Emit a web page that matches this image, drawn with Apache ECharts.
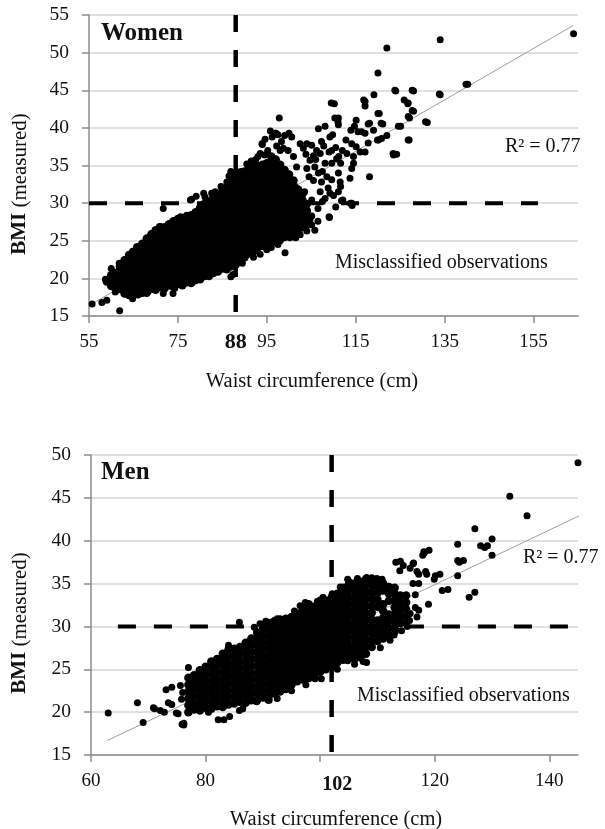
<!DOCTYPE html>
<html>
<head>
<meta charset="utf-8">
<script src="https://cdn.jsdelivr.net/npm/echarts@6.0.0/dist/echarts.min.js"></script>
<style>
html, body { margin: 0; padding: 0; background: #fff; }
#chart { width: 605px; height: 829px; }
</style>
</head>
<body>
<div id="chart"></div>
<script>
// ---------- Women: waist circumference (cm) vs measured BMI ----------
const womenTickValues = [55, 75, 95, 115, 135, 155];
const womenLabelValues = [55, 75, 88, 95, 115, 135, 155];
const womenWaistCutoff = 88;
const bmiCutoff = 30;
const womenCutoffSpan = [55, 156];          // horizontal BMI 30 line, waist extent
const womenTrend = [[55.9, 16.7], [163.9, 53.6]];

// dense central band, one column per waist value
const womenCoreWaist = [59, 60, 61, 62, 63, 64, 65, 66, 67, 68, 69, 70, 71, 72, 73, 74, 75, 76, 77, 78, 79, 80, 81,
  82, 83, 84, 85, 86, 87, 88, 89, 90, 91, 92, 93, 94, 95, 96, 97, 98, 99, 100, 101, 102, 103, 104];
const womenCoreBmi = [
  [19.6],
  [19.0, 20.4],
  [18.9, 19.8, 20.7],
  [18.6, 19.5, 20.4, 21.3],
  [18.0, 18.9, 19.8, 20.7, 21.6, 22.4],
  [17.8, 18.7, 19.6, 20.5, 21.4, 22.3, 23.1],
  [18.3, 19.2, 20.1, 21.0, 21.9, 22.8, 23.5],
  [17.9, 18.8, 19.7, 20.6, 21.5, 22.4, 23.3, 24.1],
  [18.4, 19.3, 20.2, 21.1, 22.0, 22.9, 23.8, 24.6],
  [18.1, 19.0, 19.9, 20.8, 21.7, 22.6, 23.5, 24.4, 25.3],
  [18.6, 19.5, 20.4, 21.3, 22.2, 23.1, 24.0, 24.9, 25.8],
  [18.5, 19.4, 20.3, 21.2, 22.1, 23.0, 23.9, 24.8, 25.7, 26.4],
  [18.9, 19.8, 20.7, 21.6, 22.5, 23.4, 24.3, 25.2, 26.1, 26.8],
  [18.7, 19.6, 20.5, 21.4, 22.3, 23.2, 24.1, 25.0, 25.9, 26.8],
  [19.1, 20.0, 20.9, 21.8, 22.7, 23.6, 24.5, 25.4, 26.3, 27.2],
  [18.9, 19.8, 20.7, 21.6, 22.5, 23.4, 24.3, 25.2, 26.1, 27.0, 27.6],
  [19.3, 20.2, 21.1, 22.0, 22.9, 23.8, 24.7, 25.6, 26.5, 27.4, 27.9],
  [19.1, 20.0, 20.9, 21.8, 22.7, 23.6, 24.5, 25.4, 26.3, 27.2, 28.0],
  [19.5, 20.4, 21.3, 22.2, 23.1, 24.0, 24.9, 25.8, 26.7, 27.6, 28.3],
  [19.4, 20.3, 21.2, 22.1, 23.0, 23.9, 24.8, 25.7, 26.6, 27.5, 28.4],
  [19.8, 20.7, 21.6, 22.5, 23.4, 24.3, 25.2, 26.1, 27.0, 27.9, 28.8],
  [19.9, 20.8, 21.7, 22.6, 23.5, 24.4, 25.3, 26.2, 27.1, 28.0, 28.9, 29.4],
  [20.3, 21.2, 22.1, 23.0, 23.9, 24.8, 25.7, 26.6, 27.5, 28.4, 29.3, 29.9],
  [20.3, 21.2, 22.1, 23.0, 23.9, 24.8, 25.7, 26.6, 27.5, 28.4, 29.3, 30.2],
  [20.7, 21.6, 22.5, 23.4, 24.3, 25.2, 26.1, 27.0, 27.9, 28.8, 29.7, 30.6, 31.0],
  [20.9, 21.8, 22.7, 23.6, 24.5, 25.4, 26.3, 27.2, 28.1, 29.0, 29.9, 30.8],
  [21.3, 22.2, 23.1, 24.0, 24.9, 25.8, 26.7, 27.6, 28.5, 29.4, 30.3, 31.2, 31.6],
  [21.2, 22.1, 23.0, 23.9, 24.8, 25.7, 26.6, 27.5, 28.4, 29.3, 30.2, 31.1, 32.0],
  [21.6, 22.5, 23.4, 24.3, 25.2, 26.1, 27.0, 27.9, 28.8, 29.7, 30.6, 31.5, 32.4, 32.8],
  [21.8, 22.7, 23.6, 24.5, 25.4, 26.3, 27.2, 28.1, 29.0, 29.9, 30.8, 31.7, 32.6, 33.2],
  [22.3, 23.2, 24.1, 25.0, 25.9, 26.8, 27.7, 28.6, 29.5, 30.4, 31.3, 32.2, 33.1, 33.6],
  [22.8, 23.7, 24.6, 25.5, 26.4, 27.3, 28.2, 29.1, 30.0, 30.9, 31.8, 32.7, 33.6, 34.2],
  [23.3, 24.2, 25.1, 26.0, 26.9, 27.8, 28.7, 29.6, 30.5, 31.4, 32.3, 33.2, 34.1, 34.6],
  [23.6, 24.5, 25.4, 26.3, 27.2, 28.1, 29.0, 29.9, 30.8, 31.7, 32.6, 33.5, 34.4, 35.0],
  [24.1, 25.0, 25.9, 26.8, 27.7, 28.6, 29.5, 30.4, 31.3, 32.2, 33.1, 34.0, 34.9],
  [24.3, 25.2, 26.1, 27.0, 27.9, 28.8, 29.7, 30.6, 31.5, 32.4, 33.3, 34.2, 35.1],
  [24.6, 25.5, 26.4, 27.3, 28.2, 29.1, 30.0, 30.9, 31.8, 32.7, 33.6, 34.5, 35.3],
  [24.7, 25.6, 26.5, 27.4, 28.3, 29.2, 30.1, 31.0, 31.9, 32.8, 33.7, 34.6, 35.5, 36.2],
  [25.1, 26.0, 26.9, 27.8, 28.7, 29.6, 30.5, 31.4, 32.3, 33.2, 34.1, 35.0, 35.8],
  [25.2, 26.1, 27.0, 27.9, 28.8, 29.7, 30.6, 31.5, 32.4, 33.3, 34.2, 35.1],
  [25.5, 26.4, 27.3, 28.2, 29.1, 30.0, 30.9, 31.8, 32.7, 33.6, 34.4],
  [25.7, 26.6, 27.5, 28.4, 29.3, 30.2, 31.1, 32.0, 32.9, 33.8],
  [26.1, 27.0, 27.9, 28.8, 29.7, 30.6, 31.5, 32.4, 33.0],
  [26.4, 27.3, 28.2, 29.1, 30.0, 30.9, 31.8],
  [26.8, 27.7, 28.6, 29.5, 30.4, 31.2],
  [27.2, 28.1, 29.0, 29.9]
];

// individual observations outside the central band
const womenScatter = [
  [55.7, 16.6], [57.9, 16.8], [59.0, 17.1], [61.9, 15.7], [58.7, 19.9], [60.0, 20.0], [60.0, 21.3], [59.9, 19.3],
  [60.9, 18.9], [60.9, 18.2], [61.8, 22.0], [61.8, 21.6], [63.9, 22.8], [64.8, 23.6], [65.7, 24.2], [64.4, 18.0],
  [64.8, 17.3], [67.0, 18.0], [67.4, 18.9], [68.7, 18.5], [69.1, 26.0], [69.6, 25.3], [70.9, 26.9], [71.7, 26.4],
  [71.7, 29.3], [71.3, 18.9], [71.7, 18.0], [73.9, 18.9], [73.9, 18.0], [75.6, 28.2], [76.5, 27.8], [77.8, 30.4],
  [79.1, 30.9], [80.8, 31.3], [82.6, 31.3], [86.9, 20.2], [89.5, 22.0], [89.1, 22.9], [90.0, 22.7], [86.9, 34.2],
  [88.2, 34.0], [89.1, 34.2], [84.7, 32.2], [83.4, 31.5], [86.0, 32.8], [91.7, 32.8], [92.1, 32.6], [93.0, 36.2],
  [93.9, 37.9], [96.9, 39.3], [97.8, 41.3], [99.1, 23.4], [100.2, 25.4], [87.4, 20.5], [74.3, 18.7], [78.1, 30.5],
  [81.1, 30.8], [83.0, 31.3], [85.2, 31.7],
  [86.5, 33.6], [87.8, 33.9], [90.5, 35.2], [91.5, 35.6], [92.5, 35.8], [93.5, 36.6], [94.5, 36.4], [95.2, 37.0],
  [94.6, 38.5], [96.2, 38.8], [97.2, 37.6], [95.8, 39.6], [97.5, 39.1], [98.3, 38.2], [99.0, 39.0], [98.0, 37.0],
  [98.7, 37.3], [99.8, 37.0], [94.0, 37.8], [100.0, 39.3], [100.6, 38.8], [97.0, 39.3], [102.5, 37.9], [104.0, 37.9],
  [105.1, 37.7], [103.2, 37.3], [106.2, 37.0], [107.0, 36.6], [109.6, 37.0], [107.3, 38.2], [108.1, 40.2], [106.6, 39.9],
  [109.8, 39.1], [109.2, 38.8], [110.2, 43.2], [111.1, 41.3], [111.1, 40.4], [113.9, 39.7], [116.3, 39.5], [117.1, 39.3],
  [115.1, 41.0], [117.8, 40.5], [117.1, 43.5], [117.1, 42.9], [119.1, 44.4], [120.0, 47.3], [122.0, 50.6], [134.0, 51.7],
  [164.0, 52.5], [140.2, 45.8], [124.0, 44.9], [128.0, 44.9], [134.0, 44.4], [125.9, 43.7], [126.7, 43.2], [128.0, 42.2],
  [120.0, 41.9], [127.1, 41.3], [131.1, 40.7], [121.1, 40.5], [125.1, 40.2], [122.0, 39.0], [127.0, 38.4], [120.1, 38.4],
  [120.8, 38.6], [112.8, 38.4], [114.1, 37.9], [117.8, 38.0], [115.1, 37.5], [116.0, 36.8], [117.1, 36.8], [123.5, 36.4],
  [124.2, 36.5], [113.0, 36.6], [114.5, 36.2], [114.5, 35.3], [110.7, 35.9], [109.6, 35.3], [108.1, 35.3], [111.1, 34.0],
  [109.6, 33.1], [114.1, 34.6], [113.7, 33.3], [118.1, 33.5], [104.7, 35.7], [105.8, 34.8], [106.6, 34.0], [101.0, 36.2],
  [101.7, 34.8], [104.0, 34.6], [107.3, 32.8], [111.5, 32.8], [111.1, 31.5], [109.2, 31.3], [107.0, 31.5], [108.1, 30.6],
  [111.8, 30.3], [114.1, 30.0], [105.1, 30.4], [104.0, 29.1], [105.1, 28.3], [102.8, 30.9], [102.5, 28.6], [103.2, 28.2],
  [109.1, 28.1], [100.9, 30.2], [98.7, 28.4], [99.4, 27.8], [101.7, 27.4], [105.1, 27.1], [99.5, 26.0], [97.3, 25.3],
  [96.5, 25.8], [98.2, 28.0], [100.8, 28.6], [102.5, 29.5], [103.4, 30.0], [104.7, 27.8], [109.0, 28.2], [111.6, 32.2],
  [112.1, 30.4], [113.8, 30.0], [114.2, 29.7], [109.5, 43.3], [110.3, 41.3], [111.0, 40.8], [109.0, 36.8], [111.2, 36.2],
  [111.6, 35.3], [116.8, 43.7], [118.1, 40.6], [119.0, 39.7], [115.5, 39.5], [114.7, 40.2], [120.3, 41.9], [120.7, 40.6],
  [123.8, 45.0], [127.7, 45.0], [126.8, 43.3], [127.7, 42.3], [126.8, 41.5], [124.6, 40.2], [119.9, 38.4], [123.4, 36.6],
  [126.8, 38.4], [130.7, 40.8], [133.8, 44.5], [139.8, 45.8],
  [100.5, 33.0], [101.5, 32.0], [102.0, 31.0], [103.5, 31.5], [104.5, 33.5], [105.5, 33.0], [106.0, 35.8], [107.5, 34.2],
  [108.5, 33.5], [108.8, 32.0], [110.0, 31.0], [110.5, 29.5], [106.5, 29.3], [107.5, 30.2], [103.8, 36.5], [105.5, 36.3],
  [107.8, 37.6], [110.5, 37.4], [112.0, 37.0], [92.0, 22.8], [93.5, 23.2], [95.0, 23.8], [96.0, 24.1], [97.5, 24.5],
  [98.0, 25.0], [101.5, 25.4], [102.5, 25.8], [104.0, 26.3], [105.8, 26.4], [106.5, 27.6]
];

// ---------- Men ----------
const menTickValues = [60, 80, 100, 120, 140];
const menLabelValues = [60, 80, 102, 120, 140];
const menWaistCutoff = 102;
const menCutoffSpan = [64.7, 143.5];
const menTrend = [[62.9, 16.7], [145.2, 42.9]];

const menCoreWaist = [77, 78, 79, 80, 81, 82, 83, 84, 85, 86, 87, 88, 89, 90, 91, 92, 93, 94, 95, 96, 97, 98, 99,
  100, 101, 102, 103, 104, 105, 106, 107, 108, 109, 110, 111, 112, 113, 114, 115];
const menCoreBmi = [
  [20.0, 20.8, 21.6, 22.4, 23.2, 24.0],
  [20.3, 21.1, 21.9, 22.7, 23.5, 24.3],
  [20.2, 21.0, 21.8, 22.6, 23.4, 24.2, 24.9],
  [20.5, 21.3, 22.1, 22.9, 23.7, 24.5, 25.3],
  [20.4, 21.2, 22.0, 22.8, 23.6, 24.4, 25.2, 25.9],
  [20.7, 21.5, 22.3, 23.1, 23.9, 24.7, 25.5, 26.2],
  [20.6, 21.4, 22.2, 23.0, 23.8, 24.6, 25.4, 26.2, 26.8],
  [20.9, 21.7, 22.5, 23.3, 24.1, 24.9, 25.7, 26.5, 27.3],
  [21.0, 21.8, 22.6, 23.4, 24.2, 25.0, 25.8, 26.6, 27.4],
  [21.2, 22.0, 22.8, 23.6, 24.4, 25.2, 26.0, 26.8, 27.6],
  [21.1, 21.9, 22.7, 23.5, 24.3, 25.1, 25.9, 26.7, 27.5, 28.1],
  [21.4, 22.2, 23.0, 23.8, 24.6, 25.4, 26.2, 27.0, 27.8, 28.6],
  [21.4, 22.2, 23.0, 23.8, 24.6, 25.4, 26.2, 27.0, 27.8, 28.6, 29.3],
  [21.7, 22.5, 23.3, 24.1, 24.9, 25.7, 26.5, 27.3, 28.1, 28.9, 29.7, 30.1],
  [21.8, 22.6, 23.4, 24.2, 25.0, 25.8, 26.6, 27.4, 28.2, 29.0, 29.8, 30.4],
  [22.2, 23.0, 23.8, 24.6, 25.4, 26.2, 27.0, 27.8, 28.6, 29.4, 30.2, 30.6],
  [22.4, 23.2, 24.0, 24.8, 25.6, 26.4, 27.2, 28.0, 28.8, 29.6, 30.4, 30.8],
  [22.9, 23.7, 24.5, 25.3, 26.1, 26.9, 27.7, 28.5, 29.3, 30.1, 30.9],
  [23.2, 24.0, 24.8, 25.6, 26.4, 27.2, 28.0, 28.8, 29.6, 30.4, 31.1],
  [23.6, 24.4, 25.2, 26.0, 26.8, 27.6, 28.4, 29.2, 30.0, 30.8, 31.5],
  [23.8, 24.6, 25.4, 26.2, 27.0, 27.8, 28.6, 29.4, 30.2, 31.0, 31.8, 32.2],
  [24.1, 24.9, 25.7, 26.5, 27.3, 28.1, 28.9, 29.7, 30.5, 31.3, 32.1, 32.6],
  [24.3, 25.1, 25.9, 26.7, 27.5, 28.3, 29.1, 29.9, 30.7, 31.5, 32.3],
  [24.7, 25.5, 26.3, 27.1, 27.9, 28.7, 29.5, 30.3, 31.1, 31.9, 32.7, 33.0],
  [25.0, 25.8, 26.6, 27.4, 28.2, 29.0, 29.8, 30.6, 31.4, 32.2, 33.0],
  [25.4, 26.2, 27.0, 27.8, 28.6, 29.4, 30.2, 31.0, 31.8, 32.6, 33.4],
  [25.8, 26.6, 27.4, 28.2, 29.0, 29.8, 30.6, 31.4, 32.2, 33.0, 33.8],
  [26.1, 26.9, 27.7, 28.5, 29.3, 30.1, 30.9, 31.7, 32.5, 33.3, 34.1, 34.5],
  [26.3, 27.1, 27.9, 28.7, 29.5, 30.3, 31.1, 31.9, 32.7, 33.5, 34.3, 34.9],
  [26.2, 27.0, 27.8, 28.6, 29.4, 30.2, 31.0, 31.8, 32.6, 33.4, 34.2, 35.0],
  [26.4, 27.2, 28.0, 28.8, 29.6, 30.4, 31.2, 32.0, 32.8, 33.6, 34.4, 35.2],
  [26.8, 27.6, 28.4, 29.2, 30.0, 30.8, 31.6, 32.4, 33.2, 34.0, 34.8, 35.5],
  [27.6, 28.4, 29.2, 30.0, 30.8, 31.6, 32.4, 33.2, 34.0, 34.8, 35.6],
  [28.3, 29.1, 29.9, 30.7, 32.3, 33.1, 33.9, 34.7, 35.4],
  [28.6, 29.4, 30.2, 31.0, 31.8, 32.6, 34.2, 35.0],
  [29.0, 29.8, 30.6, 31.4, 33.0, 33.8, 34.6],
  [29.8, 30.6, 31.4, 32.2, 33.0, 33.8, 34.5],
  [30.4, 31.2, 32.0, 32.8, 33.6],
  [31.2, 32.0, 32.8, 33.6]
];

const menScatter = [
  [63.0, 19.9], [68.1, 21.1], [69.1, 18.8], [71.1, 20.4], [72.1, 20.2], [72.8, 20.0], [73.1, 22.6], [74.1, 22.9],
  [75.2, 19.8], [76.2, 18.7], [76.2, 18.5], [77.0, 25.2], [73.5, 21.1], [74.1, 20.9], [77.8, 21.0], [79.2, 20.6],
  [80.5, 20.0], [81.1, 25.9], [82.2, 19.1], [83.2, 19.1], [84.2, 19.5], [84.0, 27.8], [85.9, 30.5], [85.9, 20.2],
  [89.0, 21.4], [91.1, 21.4], [94.0, 22.6], [97.4, 32.8], [99.1, 23.9], [98.0, 23.9], [102.1, 33.8], [103.8, 34.2],
  [104.8, 34.4], [105.1, 35.2], [104.8, 35.5], [108.1, 35.7], [107.5, 25.9], [108.1, 25.8], [104.8, 26.0], [105.1, 26.4],
  [108.8, 35.0], [109.8, 35.3], [110.8, 35.5], [113.2, 37.5], [113.9, 36.5], [114.5, 37.1], [112.2, 28.4], [114.2, 29.5],
  [112.9, 29.0], [115.6, 30.7], [116.9, 31.1], [116.2, 35.0], [117.2, 36.1], [117.9, 38.3], [118.2, 38.6], [116.2, 37.3],
  [117.2, 31.9], [116.6, 32.2], [118.6, 36.1], [118.9, 32.6], [119.9, 35.5], [120.1, 35.9], [120.9, 36.1], [121.3, 34.2],
  [122.3, 34.3], [124.0, 39.6], [124.0, 37.7], [124.3, 37.5], [125.0, 37.7], [124.0, 35.9], [126.0, 33.4], [127.0, 34.0],
  [127.0, 41.4], [128.0, 39.4], [128.7, 39.2], [129.2, 39.4], [130.0, 40.2], [130.0, 38.3], [133.1, 45.2], [136.1, 42.9],
  [145.0, 49.1],
  [70.9, 20.5], [74.9, 19.9], [75.9, 18.6], [90.9, 21.4], [88.9, 21.2], [113.1, 29.4], [115.2, 30.0], [118.4, 36.4],
  [116.3, 37.4], [115.7, 36.8], [116.9, 36.4], [117.2, 35.0], [116.6, 33.7], [115.7, 31.5], [114.6, 30.4], [118.1, 38.7],
  [119.0, 38.9], [114.0, 37.6], [109.9, 35.6], [88.5, 29.9], [89.5, 30.3], [90.5, 30.6], [92.5, 30.9], [95.5, 31.8],
  [96.5, 32.4], [99.5, 32.9], [100.5, 33.4], [103.5, 34.6], [106.5, 35.6], [75.8, 21.5], [76.0, 22.3], [75.6, 23.1],
  [86.5, 20.4], [92.5, 21.6], [95.0, 22.5], [97.5, 23.2], [100.2, 23.9], [103.0, 25.0], [106.0, 25.6], [110.5, 27.5]
];

function columnsToPoints(waists, bmis) {
  const pts = [];
  waists.forEach(function (w, i) {
    bmis[i].forEach(function (b) { pts.push([w, b]); });
  });
  return pts;
}

const FONT = '"Liberation Serif", "Times New Roman", Times, serif';
const INK = '#111';
const AXIS_GREY = '#8c8c8c';
const GRID_GREY = '#d6d6d6';

function xAxisFor(gridIndex, min, max, ticks, labels, boldValue, boldRich) {
  return {
    gridIndex: gridIndex, type: 'value', min: min, max: max,
    axisLine: { show: true, lineStyle: { color: AXIS_GREY, width: 1.5 } },
    axisTick: { show: true, length: 7, customValues: ticks, lineStyle: { color: AXIS_GREY, width: 1.5 } },
    axisLabel: {
      customValues: labels, margin: 17, color: INK, fontFamily: FONT, fontSize: 19, lineHeight: 19,
      formatter: function (v) { return v === boldValue ? '{b|' + v + '}' : String(v); },
      rich: { b: boldRich }
    },
    splitLine: { show: false }
  };
}

function yAxisFor(gridIndex, min, max) {
  return {
    gridIndex: gridIndex, type: 'value', min: min, max: max, interval: 5,
    axisLine: { show: true, lineStyle: { color: AXIS_GREY, width: 1.5 } },
    axisTick: { show: true, length: 7, lineStyle: { color: AXIS_GREY, width: 1.5 } },
    axisLabel: { margin: 20, color: INK, fontFamily: FONT, fontSize: 19.5 },
    splitLine: { show: true, lineStyle: { color: GRID_GREY, width: 1.5 } }
  };
}

function panelSeries(idx, corePoints, scatterPoints, trend, waistCut, yMax, ySpanMin, cutSpan) {
  return [
    {
      type: 'line', xAxisIndex: idx, yAxisIndex: idx, data: trend, symbol: 'none', silent: true, z: 1,
      lineStyle: { color: '#9e9e9e', width: 1 }
    },
    {
      type: 'scatter', xAxisIndex: idx, yAxisIndex: idx, data: corePoints, symbol: 'circle', symbolSize: 8.5,
      itemStyle: { color: '#000', opacity: 1 }, z: 2, silent: true
    },
    {
      type: 'scatter', xAxisIndex: idx, yAxisIndex: idx, data: scatterPoints, symbol: 'circle', symbolSize: 7,
      itemStyle: { color: '#000', opacity: 1 }, z: 2, silent: true
    },
    {
      type: 'line', xAxisIndex: idx, yAxisIndex: idx, symbol: 'none', silent: true, z: 3,
      data: [[cutSpan[0], bmiCutoff], [cutSpan[1], bmiCutoff]],
      lineStyle: { color: '#000', width: 4, type: [18, 18], cap: 'butt' }
    },
    {
      type: 'line', xAxisIndex: idx, yAxisIndex: idx, symbol: 'none', silent: true, z: 3,
      data: [[waistCut, yMax], [waistCut, ySpanMin]],
      lineStyle: { color: '#000', width: 4.5, type: [17, 18], cap: 'butt' }
    }
  ];
}

function label(text, x, y, size, weight, align) {
  return {
    type: 'text', x: x, y: y, silent: true,
    style: {
      text: text, fill: INK, fontFamily: FONT, fontSize: size, fontWeight: weight || 'normal',
      align: align || 'left', verticalAlign: 'middle'
    }
  };
}

function bmiTitle(y) {
  return {
    type: 'text', x: 20, y: y, rotation: Math.PI / 2, silent: true,
    style: {
      text: '{b|BMI} (measured)', fill: INK, fontFamily: FONT, fontSize: 21,
      align: 'center', verticalAlign: 'middle',
      rich: { b: { fontFamily: FONT, fontSize: 21, fontWeight: 'bold', fill: INK } }
    }
  };
}

const chart = echarts.init(document.getElementById('chart'), null, { renderer: 'canvas' });
chart.setOption({
  animation: false,
  backgroundColor: '#fff',
  grid: [
    { left: 89, right: 27, top: 15, bottom: 513, outerBoundsMode: 'none' },
    { left: 91, right: 27, top: 455, bottom: 74, outerBoundsMode: 'none' }
  ],
  xAxis: [
    xAxisFor(0, 55, 165, womenTickValues, womenLabelValues, womenWaistCutoff,
      { fontFamily: FONT, fontSize: 22, lineHeight: 19, fontWeight: 'bold', color: INK }),
    xAxisFor(1, 60, 145, menTickValues, menLabelValues, menWaistCutoff,
      { fontFamily: FONT, fontSize: 20, lineHeight: 19, fontWeight: 'bold', color: INK, padding: [6, 0, 0, 11] })
  ],
  yAxis: [yAxisFor(0, 15, 55), yAxisFor(1, 15, 50)],
  series: [].concat(
    panelSeries(0, columnsToPoints(womenCoreWaist, womenCoreBmi), womenScatter,
      womenTrend, womenWaistCutoff, 55, 15, womenCutoffSpan),
    panelSeries(1, columnsToPoints(menCoreWaist, menCoreBmi), menScatter,
      menTrend, menWaistCutoff, 50, 15, menCutoffSpan)
  ),
  graphic: [
    label('Women', 101, 34, 25, 'bold'),
    label('R\u00B2 = 0.77', 505, 147, 20),
    label('Misclassified observations', 335, 263, 20),
    label('Waist circumference (cm)', 312, 382, 20.5, 'normal', 'center'),
    bmiTitle(184),
    label('Men', 101, 473, 25, 'bold'),
    label('R\u00B2 = 0.77', 523, 558, 20),
    label('Misclassified observations', 357, 696, 20),
    label('Waist circumference (cm)', 336, 820, 20.5, 'normal', 'center'),
    bmiTitle(623)
  ]
});
</script>
</body>
</html>
